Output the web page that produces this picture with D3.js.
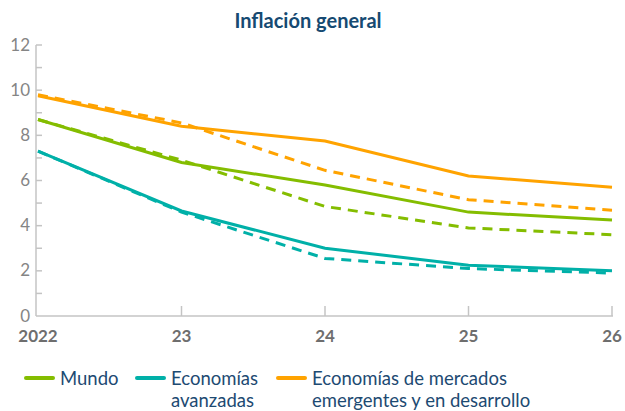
<!DOCTYPE html>
<html>
<head>
<meta charset="utf-8">
<script src="https://cdn.jsdelivr.net/npm/d3@7"></script>
<style>
  body { margin: 0; background: #fff; }
  text { font-family: Lato, "Open Sans", sans-serif; }
</style>
</head>
<body>
<svg id="chart" width="625" height="411"></svg>
<script>
// Years on the x axis (tick labels)
var years = ['2022', '23', '24', '25', '26'];

// Solid lines (current forecast) and dashed lines (previous forecast)
var mundo      = [8.7, 6.8, 5.8, 4.6, 4.25];
var mundoPrev  = [8.7, 6.9, 4.85, 3.9, 3.6];
var avanz      = [7.3, 4.65, 3.0, 2.25, 2.0];
var avanzPrev  = [7.3, 4.6, 2.55, 2.1, 1.9];
var emerg      = [9.75, 8.4, 7.75, 6.2, 5.7];
var emergPrev  = [9.8, 8.55, 6.45, 5.15, 4.68];

var yTicks = [0, 2, 4, 6, 8, 10, 12];

var series = [
    { values: mundo,     color: '#84bd00', dashed: false },
    { values: mundoPrev, color: '#84bd00', dashed: true },
    { values: avanz,     color: '#00b0a8', dashed: false },
    { values: avanzPrev, color: '#00b0a8', dashed: true },
    { values: emerg,     color: '#ffa300', dashed: false },
    { values: emergPrev, color: '#ffa300', dashed: true }
];

var legendItems = [
    { lines: ['Mundo'], color: '#84bd00', x: 26 },
    { lines: ['Economías', 'avanzadas'], color: '#00b0a8', x: 137 },
    { lines: ['Economías de mercados', 'emergentes y en desarrollo'], color: '#ffa300', x: 278 }
];

var svg = d3.select('#chart');
var axisColor = '#c4c4c4';

var x = d3.scalePoint()
    .domain(years)
    .range([38, 612]);

var y = d3.scaleLinear()
    .domain([0, 12])
    .range([316, 45]);

// Title
svg.append('text')
    .attr('x', 308)
    .attr('y', 28)
    .attr('text-anchor', 'middle')
    .attr('font-size', 20)
    .attr('font-weight', 'bold')
    .attr('fill', '#164a72')
    .text('Inflación general');

// Y axis
var yAxis = svg.append('g').attr('class', 'y-axis');
yAxis.append('line')
    .attr('x1', 36).attr('x2', 36)
    .attr('y1', y(12)).attr('y2', y(0))
    .attr('stroke', axisColor).attr('stroke-width', 1.5);

d3.range(1, 13).forEach(function (v) {
    yAxis.append('line')
        .attr('x1', 36).attr('x2', 42)
        .attr('y1', y(v)).attr('y2', y(v))
        .attr('stroke', axisColor).attr('stroke-width', 1.5);
});

yAxis.selectAll('text')
    .data(yTicks)
    .enter()
    .append('text')
    .attr('x', 30)
    .attr('y', function (d) { return y(d); })
    .attr('dy', '0.33em')
    .attr('text-anchor', 'end')
    .attr('font-size', 17)
    .attr('fill', '#858585')
    .text(function (d) { return d; });

// X axis
var xAxis = svg.append('g').attr('class', 'x-axis');
xAxis.append('line')
    .attr('x1', 36).attr('x2', 613)
    .attr('y1', y(0)).attr('y2', y(0))
    .attr('stroke', axisColor).attr('stroke-width', 1.5);

years.slice(1).forEach(function (yr) {
    xAxis.append('line')
        .attr('x1', x(yr)).attr('x2', x(yr))
        .attr('y1', y(0) - 10).attr('y2', y(0))
        .attr('stroke', axisColor).attr('stroke-width', 1.5);
});

xAxis.selectAll('text')
    .data(years)
    .enter()
    .append('text')
    .attr('x', function (d) { return x(d); })
    .attr('y', 342)
    .attr('text-anchor', 'middle')
    .attr('font-size', 17)
    .attr('font-weight', 'bold')
    .attr('fill', '#6e6e6e')
    .text(function (d) { return d; });

// Lines
var line = d3.line()
    .x(function (d, i) { return x(years[i]); })
    .y(function (d) { return y(d); });

svg.append('g')
    .attr('class', 'lines')
    .selectAll('path')
    .data(series)
    .enter()
    .append('path')
    .attr('d', function (d) { return line(d.values); })
    .attr('fill', 'none')
    .attr('stroke', function (d) { return d.color; })
    .attr('stroke-width', 3)
    .attr('stroke-dasharray', function (d) { return d.dashed ? '10,7' : null; });

// Legend
var legend = svg.append('g').attr('class', 'legend');
legendItems.forEach(function (item) {
    legend.append('line')
        .attr('x1', item.x).attr('x2', item.x + 27)
        .attr('y1', 378).attr('y2', 378)
        .attr('stroke', item.color)
        .attr('stroke-width', 4)
        .attr('stroke-linecap', 'round');
    var t = legend.append('text')
        .attr('x', item.x + 34)
        .attr('y', 385)
        .attr('font-size', 18.5)
        .attr('fill', '#1d4a72');
    item.lines.forEach(function (s, i) {
        t.append('tspan')
            .attr('x', item.x + 34)
            .attr('dy', i === 0 ? 0 : 22)
            .text(s);
    });
});
</script>
</body>
</html>
